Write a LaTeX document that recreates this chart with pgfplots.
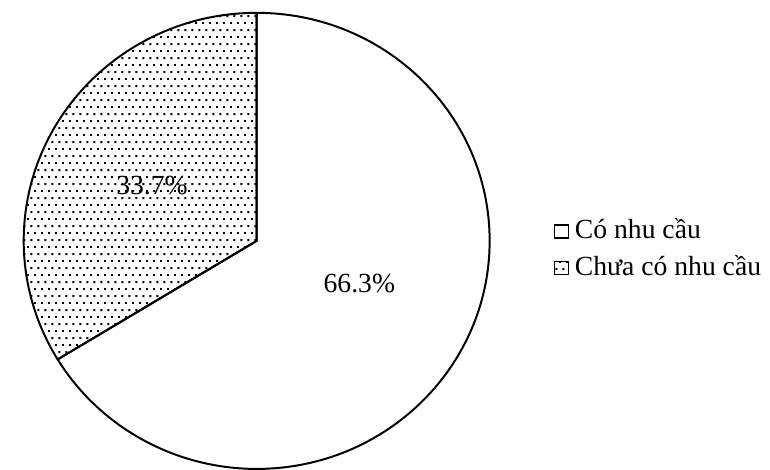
\documentclass[border=0pt]{standalone}
\usepackage{pgfplots}
\pgfplotsset{compat=1.18}
\usepackage{pgfplotstable}
\usepackage{fontspec}
\setmainfont{Liberation Serif}
\usetikzlibrary{patterns}
\pgfdeclarepatternformonly{sparsedots}{\pgfpointorigin}{\pgfpoint{3.5pt}{7pt}}{\pgfpoint{3.5pt}{7pt}}{%
  \pgfpathrectangle{\pgfpoint{0pt}{0pt}}{\pgfpoint{1pt}{1pt}}%
  \pgfpathrectangle{\pgfpoint{1.75pt}{3.5pt}}{\pgfpoint{1pt}{1pt}}%
  \pgfusepath{fill}}
\pgfplotstableread{
label value
A 66.3
B 33.7
}\piedata
\begin{document}
\pgfplotstablegetelem{0}{value}\of\piedata\let\valA\pgfplotsretval
\pgfplotstablegetelem{1}{value}\of\piedata\let\valB\pgfplotsretval
\pgfmathsetmacro\angA{90-3.6*\valA}
\pgfmathsetmacro\angB{90+3.6*\valB}
\begin{tikzpicture}
\useasboundingbox (0,0) rectangle (385pt,238pt);
\begin{axis}[at={(0,0)}, anchor=south west, hide axis, scale only axis,
  width=385pt, height=238pt, xmin=0, xmax=770, ymin=0, ymax=476,
  y dir=reverse, clip=false]
\addplot[draw=none] coordinates {(0,0)};
\filldraw[fill=white, line width=1pt, line join=round]
  (axis cs:250,244) -- (axis cs:250,13)
  arc[start angle=90, end angle=\angA, x radius=118pt, y radius=115.5pt] -- cycle;
\draw[pattern=sparsedots, line width=1pt, line join=round]
  (axis cs:250,244) -- (axis cs:250,13)
  arc[start angle=90, end angle=\angB, x radius=118pt, y radius=115.5pt] -- cycle;
\node[font=\fontsize{14pt}{16pt}\selectfont, inner sep=0pt] at (axis cs:354,287) {\valA\%};
\node[font=\fontsize{14pt}{16pt}\selectfont, inner sep=0pt] at (axis cs:144,188) {\valB\%};
\draw[line width=0.6pt, fill=white] (axis cs:552,228) rectangle (axis cs:566,241);
\draw[line width=0.6pt, pattern=sparsedots] (axis cs:552,265) rectangle (axis cs:566,278);
\node[font=\fontsize{14pt}{16pt}\selectfont, inner sep=0pt, anchor=base west] at (axis cs:572,242) {Có nhu cầu};
\node[font=\fontsize{14pt}{16pt}\selectfont, inner sep=0pt, anchor=base west] at (axis cs:572,279) {Chưa có nhu cầu};
\end{axis}
\end{tikzpicture}
\end{document}
